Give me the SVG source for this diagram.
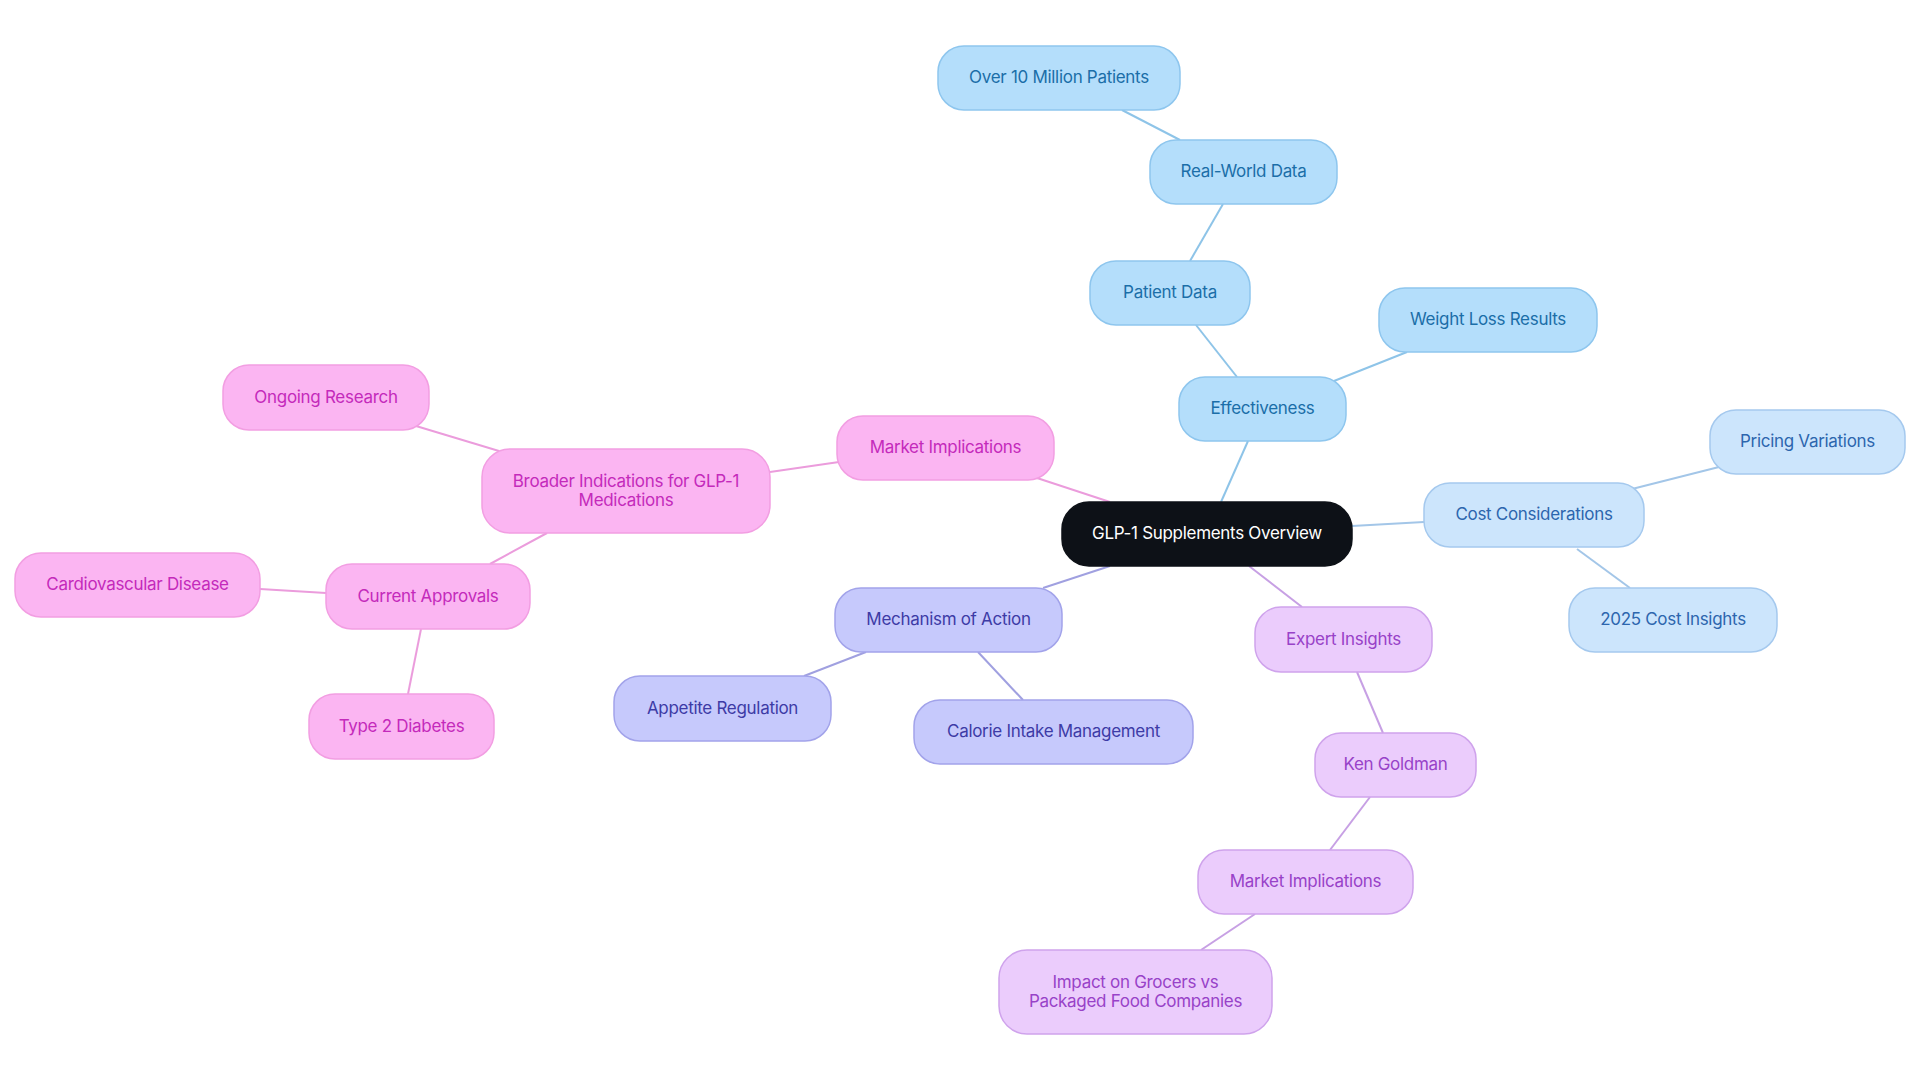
<svg xmlns="http://www.w3.org/2000/svg" width="1920" height="1083" viewBox="0 0 1920 1083">
<style>
text{font-family:Inter,"Noto Sans",sans-serif;font-size:17px;letter-spacing:-0.3px;text-anchor:middle;dominant-baseline:central}
rect{stroke-width:1.5}
.c rect{fill:#0d1117;stroke:#0d1117}.c text{fill:#ffffff}
.b rect{fill:#b4defb;stroke:#8ec6ee}.b text{fill:#1b6ea8}
.k rect{fill:#cce5fc;stroke:#a5c9ee}.k text{fill:#2d66ae}
.m rect{fill:#c6c9fc;stroke:#a2a3ea}.m text{fill:#3d3ba6}
.e rect{fill:#ebccfc;stroke:#cfa3ec}.e text{fill:#9842c8}
.p rect{fill:#fbb5f2;stroke:#f29ee2}.p text{fill:#c42abb}
#connectors line{stroke-width:2;fill:none}
.lb{stroke:#8ec4e8}.lk{stroke:#a3c6e8}.lm{stroke:#a0a0e0}.le{stroke:#c7a0e4}.lp{stroke:#eb9cdc}
</style>
<rect width="1920" height="1083" fill="#ffffff"/>
<g id="connectors">
<line class="lb" x1="1221" y1="502" x2="1248" y2="441"/>
<line class="lb" x1="1237" y1="377" x2="1196" y2="325"/>
<line class="lb" x1="1190" y1="261" x2="1223" y2="204"/>
<line class="lb" x1="1180" y1="140" x2="1122" y2="110"/>
<line class="lb" x1="1334" y1="381" x2="1407" y2="352"/>
<line class="lk" x1="1352" y1="526" x2="1424" y2="522"/>
<line class="lk" x1="1632" y1="489" x2="1719" y2="467"/>
<line class="lk" x1="1577" y1="549" x2="1630" y2="588"/>
<line class="lm" x1="1110" y1="566" x2="1043" y2="588"/>
<line class="lm" x1="866" y1="652" x2="804" y2="676"/>
<line class="lm" x1="978" y1="652" x2="1023" y2="700"/>
<line class="le" x1="1249" y1="566" x2="1302" y2="607"/>
<line class="le" x1="1357" y1="672" x2="1383" y2="733"/>
<line class="le" x1="1370" y1="797" x2="1330" y2="850"/>
<line class="le" x1="1255" y1="914" x2="1201" y2="950"/>
<line class="lp" x1="1110" y1="502" x2="1037" y2="478"/>
<line class="lp" x1="839" y1="462" x2="770" y2="472"/>
<line class="lp" x1="499" y1="451" x2="416" y2="426"/>
<line class="lp" x1="547" y1="533" x2="490" y2="564"/>
<line class="lp" x1="326" y1="593" x2="260" y2="589"/>
<line class="lp" x1="421" y1="629" x2="408" y2="694"/>
</g>
<g id="n-center" class="c"><rect x="1062" y="502" width="290" height="64" rx="27"/><text x="1207" y="533">GLP-1 Supplements Overview</text></g>
<g id="n-effectiveness" class="b"><rect x="1179" y="377" width="167" height="64" rx="26"/><text x="1262.5" y="408">Effectiveness</text></g>
<g id="n-patient-data" class="b"><rect x="1090" y="261" width="160" height="64" rx="26"/><text x="1170" y="292">Patient Data</text></g>
<g id="n-real-world" class="b"><rect x="1150" y="140" width="187" height="64" rx="26"/><text x="1243.5" y="171">Real-World Data</text></g>
<g id="n-over10m" class="b"><rect x="938" y="46" width="242" height="64" rx="26"/><text x="1059" y="77">Over 10 Million Patients</text></g>
<g id="n-weight-loss" class="b"><rect x="1379" y="288" width="218" height="64" rx="26"/><text x="1488" y="319">Weight Loss Results</text></g>
<g id="n-cost" class="k"><rect x="1424" y="483" width="220" height="64" rx="26"/><text x="1534" y="514">Cost Considerations</text></g>
<g id="n-pricing" class="k"><rect x="1710" y="410" width="195" height="64" rx="26"/><text x="1807.5" y="441">Pricing Variations</text></g>
<g id="n-2025" class="k"><rect x="1569" y="588" width="208" height="64" rx="26"/><text x="1673" y="619">2025 Cost Insights</text></g>
<g id="n-mechanism" class="m"><rect x="835" y="588" width="227" height="64" rx="26"/><text x="948.5" y="619">Mechanism of Action</text></g>
<g id="n-appetite" class="m"><rect x="614" y="676" width="217" height="65" rx="26"/><text x="722.5" y="707.5">Appetite Regulation</text></g>
<g id="n-calorie" class="m"><rect x="914" y="700" width="279" height="64" rx="26"/><text x="1053.5" y="731">Calorie Intake Management</text></g>
<g id="n-expert" class="e"><rect x="1255" y="607" width="177" height="65" rx="26"/><text x="1343.5" y="638.5">Expert Insights</text></g>
<g id="n-ken" class="e"><rect x="1315" y="733" width="161" height="64" rx="26"/><text x="1395.5" y="764">Ken Goldman</text></g>
<g id="n-market-e" class="e"><rect x="1198" y="850" width="215" height="64" rx="26"/><text x="1305.5" y="881">Market Implications</text></g>
<g id="n-impact" class="e"><rect x="999" y="950" width="273" height="84" rx="28"/><text x="1135.5" y="982">Impact on Grocers vs</text><text x="1135.5" y="1001">Packaged Food Companies</text></g>
<g id="n-market-p" class="p"><rect x="837" y="416" width="217" height="64" rx="26"/><text x="945.5" y="447">Market Implications</text></g>
<g id="n-broader" class="p"><rect x="482" y="449" width="288" height="84" rx="28"/><text x="626" y="481">Broader Indications for GLP-1</text><text x="626" y="500">Medications</text></g>
<g id="n-ongoing" class="p"><rect x="223" y="365" width="206" height="65" rx="26"/><text x="326" y="396.5">Ongoing Research</text></g>
<g id="n-current" class="p"><rect x="326" y="564" width="204" height="65" rx="26"/><text x="428" y="595.5">Current Approvals</text></g>
<g id="n-cardio" class="p"><rect x="15" y="553" width="245" height="64" rx="26"/><text x="137.5" y="584">Cardiovascular Disease</text></g>
<g id="n-type2" class="p"><rect x="309" y="694" width="185" height="65" rx="26"/><text x="401.5" y="725.5">Type 2 Diabetes</text></g>
</svg>
